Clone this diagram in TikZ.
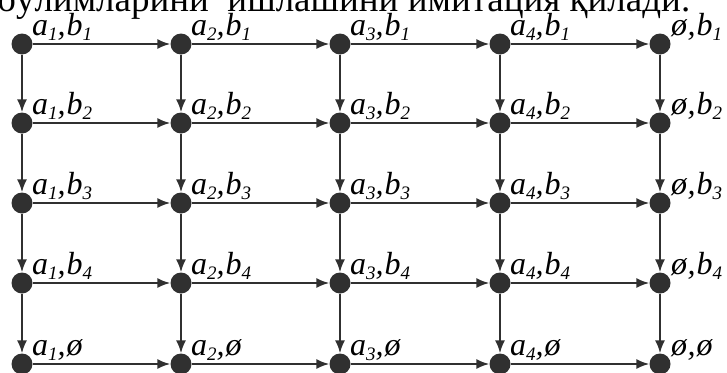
\documentclass[tikz,border=0pt]{standalone}
\usepackage{fontspec}
\setmainfont{Liberation Serif}
\usetikzlibrary{arrows.meta}
\definecolor{dotgray}{HTML}{303030}
\newcommand{\sbs}[1]{\raisebox{-5pt}{\fontsize{19}{19}\selectfont\textit{#1}}}
\newcommand{\pairlab}[4]{\textit{#1}\sbs{#2}\textit{,\kern1pt#3}\sbs{#4}}

\begin{document}
\begin{tikzpicture}[x=1pt,y=-1pt,
  dot/.style={inner sep=0pt,minimum size=21pt,circle,fill=dotgray},
  lab/.style={anchor=base west,inner sep=0pt,font=\fontsize{32}{32}\selectfont},
  >={Latex[length=13pt,width=10pt]}]
\useasboundingbox (0,0) rectangle (727,372);
\clip (0,0) rectangle (727,372);

\node[anchor=base west,inner sep=0pt,font=\fontsize{37}{37}\selectfont] (title) at (-3,12) {бўлимларини\ \ ишлашини имитация қилади.};

\node[dot] (A11) at (22,44) {};
\node[dot] (A12) at (181,44) {};
\node[dot] (A13) at (340,44) {};
\node[dot] (A14) at (500,44) {};
\node[dot] (A15) at (660,44) {};
\node[dot] (A21) at (22,123) {};
\node[dot] (A22) at (181,123) {};
\node[dot] (A23) at (340,123) {};
\node[dot] (A24) at (500,123) {};
\node[dot] (A25) at (660,123) {};
\node[dot] (A31) at (22,203) {};
\node[dot] (A32) at (181,203) {};
\node[dot] (A33) at (340,203) {};
\node[dot] (A34) at (500,203) {};
\node[dot] (A35) at (660,203) {};
\node[dot] (A41) at (22,283) {};
\node[dot] (A42) at (181,283) {};
\node[dot] (A43) at (340,283) {};
\node[dot] (A44) at (500,283) {};
\node[dot] (A45) at (660,283) {};
\node[dot] (A51) at (22,364) {};
\node[dot] (A52) at (181,364) {};
\node[dot] (A53) at (340,364) {};
\node[dot] (A54) at (500,364) {};
\node[dot] (A55) at (660,364) {};

\path[->,line width=1.9pt,dotgray] (A11) edge (A12) (A12) edge (A13) (A13) edge (A14) (A14) edge (A15);
\path[->,line width=1.9pt,dotgray] (A21) edge (A22) (A22) edge (A23) (A23) edge (A24) (A24) edge (A25);
\path[->,line width=1.9pt,dotgray] (A31) edge (A32) (A32) edge (A33) (A33) edge (A34) (A34) edge (A35);
\path[->,line width=1.9pt,dotgray] (A41) edge (A42) (A42) edge (A43) (A43) edge (A44) (A44) edge (A45);
\path[->,line width=1.9pt,dotgray] (A51) edge (A52) (A52) edge (A53) (A53) edge (A54) (A54) edge (A55);

\path[->,line width=1.9pt,dotgray] (A11) edge (A21) (A21) edge (A31) (A31) edge (A41) (A41) edge (A51);
\path[->,line width=1.9pt,dotgray] (A12) edge (A22) (A22) edge (A32) (A32) edge (A42) (A42) edge (A52);
\path[->,line width=1.9pt,dotgray] (A13) edge (A23) (A23) edge (A33) (A33) edge (A43) (A43) edge (A53);
\path[->,line width=1.9pt,dotgray] (A14) edge (A24) (A24) edge (A34) (A34) edge (A44) (A44) edge (A54);
\path[->,line width=1.9pt,dotgray] (A15) edge (A25) (A25) edge (A35) (A35) edge (A45) (A45) edge (A55);

% labels
\node[lab] (L11) at (32,35) {\pairlab{a}{1}{b}{1}};
\node[lab] (L12) at (191,35) {\pairlab{a}{2}{b}{1}};
\node[lab] (L13) at (350,35) {\pairlab{a}{3}{b}{1}};
\node[lab] (L14) at (510,35) {\pairlab{a}{4}{b}{1}};
\node[lab] (L15) at (671,35) {\pairlab{ø}{}{b}{1}};
\node[lab] (L21) at (32,114) {\pairlab{a}{1}{b}{2}};
\node[lab] (L22) at (191,114) {\pairlab{a}{2}{b}{2}};
\node[lab] (L23) at (350,114) {\pairlab{a}{3}{b}{2}};
\node[lab] (L24) at (510,114) {\pairlab{a}{4}{b}{2}};
\node[lab] (L25) at (671,114) {\pairlab{ø}{}{b}{2}};
\node[lab] (L31) at (32,194) {\pairlab{a}{1}{b}{3}};
\node[lab] (L32) at (191,194) {\pairlab{a}{2}{b}{3}};
\node[lab] (L33) at (350,194) {\pairlab{a}{3}{b}{3}};
\node[lab] (L34) at (510,194) {\pairlab{a}{4}{b}{3}};
\node[lab] (L35) at (671,194) {\pairlab{ø}{}{b}{3}};
\node[lab] (L41) at (32,274) {\pairlab{a}{1}{b}{4}};
\node[lab] (L42) at (191,274) {\pairlab{a}{2}{b}{4}};
\node[lab] (L43) at (350,274) {\pairlab{a}{3}{b}{4}};
\node[lab] (L44) at (510,274) {\pairlab{a}{4}{b}{4}};
\node[lab] (L45) at (671,274) {\pairlab{ø}{}{b}{4}};
\node[lab] (L51) at (32,355) {\pairlab{a}{1}{ø}{}};
\node[lab] (L52) at (191,355) {\pairlab{a}{2}{ø}{}};
\node[lab] (L53) at (350,355) {\pairlab{a}{3}{ø}{}};
\node[lab] (L54) at (510,355) {\pairlab{a}{4}{ø}{}};
\node[lab] (L55) at (671,355) {\pairlab{ø}{}{ø}{}};
\end{tikzpicture}
\end{document}
